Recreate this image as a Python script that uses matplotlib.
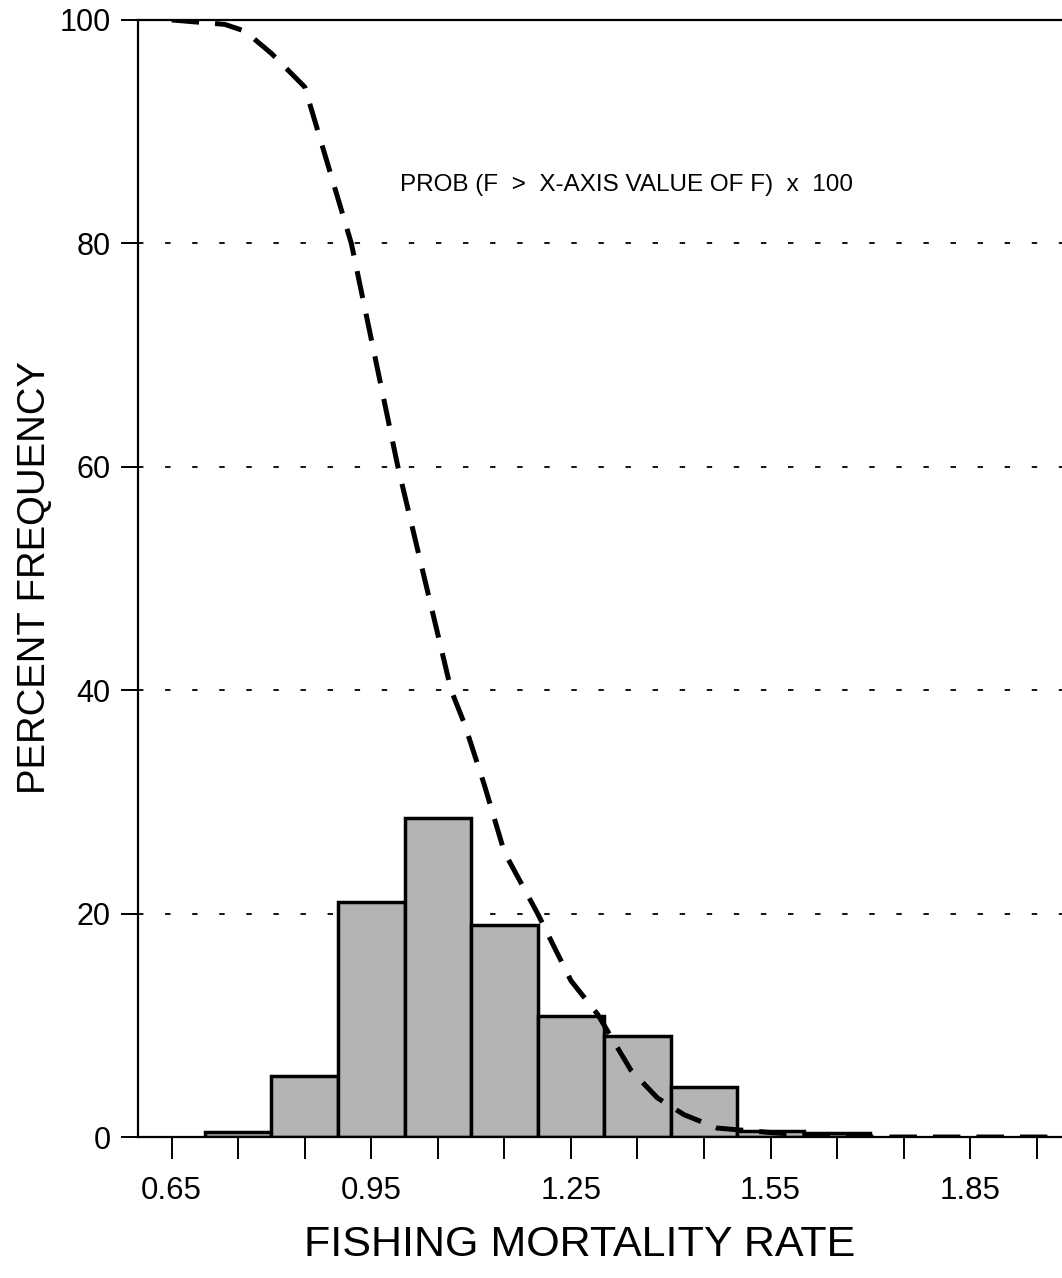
import matplotlib
matplotlib.use('Agg')
import matplotlib.pyplot as plt

plt.rcParams['font.family'] = ['Liberation Sans', 'DejaVu Sans']

# histogram of fishing mortality (bin centres, percent)
bin_centres = [0.75, 0.85, 0.95, 1.05, 1.15, 1.25, 1.35, 1.45, 1.55, 1.65]
percent = [0.45, 5.5, 21.0, 28.6, 19.0, 10.8, 9.0, 4.5, 0.5, 0.4]

# exceedance curve: prob(F > x) * 100
curve_f = [0.65, 0.73, 0.76, 0.80, 0.85, 0.92, 0.99, 1.07, 1.09, 1.12, 1.15,
           1.20, 1.25, 1.29, 1.34, 1.38, 1.42, 1.47, 1.55, 1.65, 1.75, 1.85, 1.99]
curve_p = [100, 99.6, 99.0, 97.0, 94.0, 80, 60, 40, 37, 31.5, 25.5,
           20, 14, 11, 6, 3.5, 2.0, 0.8, 0.4, 0.0, 0.0, 0.0, 0.0]

tick_pos = [0.65, 0.75, 0.85, 0.95, 1.05, 1.15, 1.25, 1.35, 1.45, 1.55, 1.65, 1.75, 1.85, 1.95]
tick_lab = ['0.65', '', '', '0.95', '', '', '1.25', '', '', '1.55', '', '', '1.85', '']
ytick_pos = [0, 20, 40, 60, 80, 100]

fig = plt.figure(figsize=[10.62, 12.78], dpi=100)
ax = fig.add_axes([0.1303, 0.1103, 0.8697, 0.8741])

ax.bar(bin_centres, percent, width=0.1, color='#b4b4b4', edgecolor='black',
       linewidth=2.5, zorder=2)
ax.plot(curve_f, curve_p, color='black', linewidth=3.6,
        linestyle=(0, (5.5, 3.2)), zorder=3)

for y in [20, 40, 60, 80]:
    ax.axhline(y, color='black', linewidth=1.3, linestyle=(0, (3, 12)), zorder=1)

ax.text(0.993, 85.2, 'PROB (F  >  X-AXIS VALUE OF F)  x  100', fontsize=17.5,
        va='center', ha='left')

ax.set_xlim(0.6, 1.988)
ax.set_ylim(0, 100)
ax.set_xticks(tick_pos)
ax.set_xticklabels(tick_lab)
ax.set_yticks(ytick_pos)
ax.spines['right'].set_visible(False)
for s in ['left', 'bottom', 'top']:
    ax.spines[s].set_linewidth(1.6)
ax.tick_params(axis='x', direction='out', length=16, width=1.4, pad=12, labelsize=22.5)
ax.tick_params(axis='y', direction='out', length=12, width=1.4, pad=8, labelsize=22)

fig.text(580 / 1062, 1 - 1245 / 1278, 'FISHING MORTALITY RATE', fontsize=31,
         ha='center', va='center')
fig.text(35 / 1062, 1 - 578 / 1278, 'PERCENT FREQUENCY', fontsize=27.5,
         ha='center', va='center', rotation=90)

fig.savefig('out.png', dpi=100)
